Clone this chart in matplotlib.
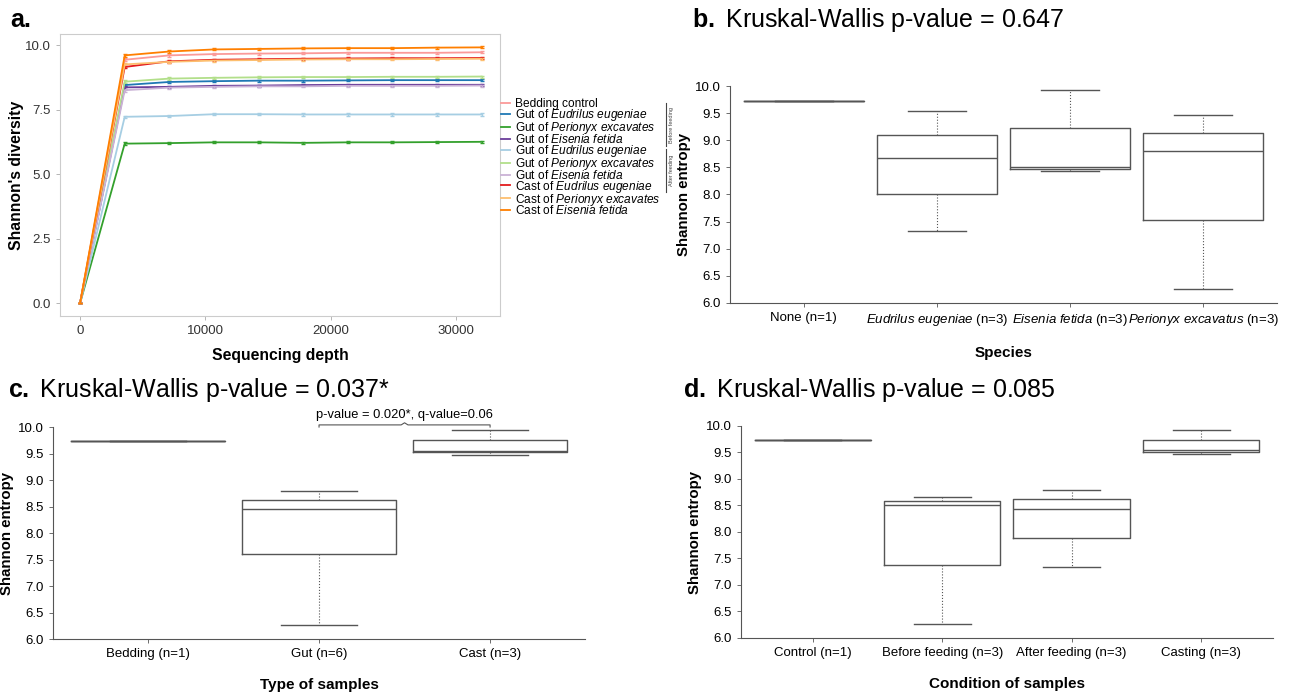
import matplotlib
matplotlib.use("Agg")
import matplotlib.pyplot as plt
import numpy as np

plt.rcParams['font.family'] = ['Liberation Sans', 'DejaVu Sans']
plt.rcParams['mathtext.fontset'] = 'custom'
plt.rcParams['mathtext.rm'] = 'Liberation Sans'
plt.rcParams['mathtext.it'] = 'Liberation Sans:italic'
plt.rcParams['mathtext.bf'] = 'Liberation Sans:bold'

# ---- panel a: rarefaction curves ----
depth = [0, 3560, 7120, 10680, 14240, 17800, 21360, 24920, 28480, 32040]
series_labels = [
    "Bedding control",
    r"Gut of $\it{Eudrilus\ eugeniae}$",
    r"Gut of $\it{Perionyx\ excavates}$",
    r"Gut of $\it{Eisenia\ fetida}$",
    r"Gut of $\it{Eudrilus\ eugeniae}$",
    r"Gut of $\it{Perionyx\ excavates}$",
    r"Gut of $\it{Eisenia\ fetida}$",
    r"Cast of $\it{Eudrilus\ eugeniae}$",
    r"Cast of $\it{Perionyx\ excavates}$",
    r"Cast of $\it{Eisenia\ fetida}$",
]
series_colors = ["#fb9a99", "#1f78b4", "#33a02c", "#6a3d9a", "#a6cee3",
                 "#b2df8a", "#cab2d6", "#e31a1c", "#fdbf6f", "#ff7f00"]
bedding = [0, 9.43, 9.60, 9.65, 9.67, 9.68, 9.70, 9.70, 9.70, 9.72]
gut_eud_before = [0, 8.45, 8.57, 8.60, 8.62, 8.62, 8.63, 8.64, 8.64, 8.64]
gut_per_before = [0, 6.18, 6.20, 6.23, 6.23, 6.21, 6.23, 6.23, 6.24, 6.25]
gut_eis_before = [0, 8.36, 8.38, 8.42, 8.43, 8.45, 8.46, 8.46, 8.46, 8.46]
gut_eud_after = [0, 7.22, 7.25, 7.32, 7.32, 7.31, 7.31, 7.31, 7.31, 7.31]
gut_per_after = [0, 8.58, 8.70, 8.73, 8.75, 8.76, 8.76, 8.77, 8.77, 8.78]
gut_eis_after = [0, 8.25, 8.35, 8.38, 8.40, 8.40, 8.42, 8.42, 8.42, 8.43]
cast_eud = [0, 9.15, 9.37, 9.43, 9.45, 9.47, 9.48, 9.49, 9.49, 9.50]
cast_per = [0, 9.25, 9.35, 9.40, 9.42, 9.44, 9.45, 9.45, 9.46, 9.47]
cast_eis = [0, 9.60, 9.75, 9.83, 9.85, 9.87, 9.88, 9.88, 9.90, 9.91]
all_series = [bedding, gut_eud_before, gut_per_before, gut_eis_before,
              gut_eud_after, gut_per_after, gut_eis_after,
              cast_eud, cast_per, cast_eis]
err = [0, 0.05, 0.05, 0.04, 0.04, 0.04, 0.04, 0.04, 0.04, 0.04]

# ---- panels b, c, d: box stats (whislo, q1, med, q3, whishi) ----
b_cats = ["None (n=1)", r"$\it{Eudrilus\ eugeniae}$ (n=3)",
          r"$\it{Eisenia\ fetida}$ (n=3)", r"$\it{Perionyx\ excavatus}$ (n=3)"]
b_stats = [[9.73, 9.73, 9.73, 9.73, 9.73],
           [7.33, 8.00, 8.67, 9.10, 9.54],
           [8.43, 8.47, 8.50, 9.22, 9.93],
           [6.26, 7.53, 8.80, 9.13, 9.47]]
c_cats = ["Bedding (n=1)", "Gut (n=6)", "Cast (n=3)"]
c_stats = [[9.73, 9.73, 9.73, 9.73, 9.73],
           [6.26, 7.60, 8.45, 8.62, 8.79],
           [9.48, 9.52, 9.55, 9.75, 9.94]]
d_cats = ["Control (n=1)", "Before feeding (n=3)", "After feeding (n=3)", "Casting (n=3)"]
d_stats = [[9.73, 9.73, 9.73, 9.73, 9.73],
           [6.26, 7.38, 8.50, 8.59, 8.66],
           [7.33, 7.88, 8.44, 8.62, 8.80],
           [9.47, 9.50, 9.54, 9.73, 9.93]]

fig = plt.figure(figsize=(12.94, 6.93), dpi=100)

# panel a
ax = fig.add_axes([0.0464, 0.544, 0.340, 0.407])
for vals, col, lab in zip(all_series, series_colors, series_labels):
    ax.errorbar(depth, vals, yerr=err, color=col, lw=1.3, capsize=1.5,
                elinewidth=1, label=lab)
ax.set_xlim(-1600, 33500)
ax.set_ylim(-0.5, 10.43)
ax.set_xticks([0, 10000, 20000, 30000])
ax.set_yticks([0, 2.5, 5.0, 7.5, 10.0])
ax.set_yticklabels(["0.0", "2.5", "5.0", "7.5", "10.0"])
for s in ax.spines.values():
    s.set_color("#cccccc")
ax.tick_params(labelcolor="#333333", labelsize=9.5, length=3, width=0.6,
               color="#aaaaaa")
ax.set_xlabel("Sequencing depth", fontsize=11.3, fontweight='bold', labelpad=8)
ax.set_ylabel("Shannon's diversity", fontsize=11.3, fontweight='bold', labelpad=1)
handles, labels = ax.get_legend_handles_labels()
handles = [h[0] for h in handles]
ax.legend(handles, labels, loc='upper left', bbox_to_anchor=(0.387, 0.858),
          bbox_transform=fig.transFigure, frameon=False, fontsize=8.6,
          handlelength=0.8, handletextpad=0.4, labelspacing=-0.26,
          borderpad=0, borderaxespad=0)
fig.add_artist(plt.Line2D([666 / 1294, 666 / 1294], [1 - 103 / 693, 1 - 146 / 693],
                          color="#444444", lw=0.8))
fig.add_artist(plt.Line2D([666 / 1294, 666 / 1294], [1 - 149 / 693, 1 - 192 / 693],
                          color="#444444", lw=0.8))
fig.text(672 / 1294, 1 - 125 / 693, "Before feeding", rotation=90, fontsize=4,
         ha='center', va='center', color="#444444")
fig.text(672 / 1294, 1 - 170 / 693, "After feeding", rotation=90, fontsize=4,
         ha='center', va='center', color="#444444")
fig.text(10 / 1294, 1 - 20 / 693, "a.", fontsize=18, fontweight='bold', va='center')


def box_panel(rect, cats, stats, xlabel, letter, title, title_xy):
    bx = fig.add_axes(rect)
    bxp_stats = []
    for cat, st in zip(cats, stats):
        bxp_stats.append(dict(label=cat, whislo=st[0], q1=st[1], med=st[2],
                              q3=st[3], whishi=st[4], fliers=[]))
    bx.bxp(bxp_stats, positions=range(1, len(cats) + 1), widths=0.9,
           showfliers=False,
           boxprops=dict(color="#555555", lw=1),
           medianprops=dict(color="#555555", lw=1),
           whiskerprops=dict(color="#555555", lw=0.8, ls=':'),
           capprops=dict(color="#555555", lw=1), capwidths=0.44)
    bx.set_xlim(0.445, len(cats) + 0.555)
    bx.set_ylim(6.0, 10.0)
    bx.set_yticks(np.arange(6.0, 10.01, 0.5))
    bx.set_yticklabels(["%.1f" % v for v in np.arange(6.0, 10.01, 0.5)])
    bx.set_xticks(range(1, len(cats) + 1))
    bx.set_xticklabels(cats)
    bx.spines['top'].set_visible(False)
    bx.spines['right'].set_visible(False)
    bx.spines['left'].set_color("#555555")
    bx.spines['bottom'].set_color("#555555")
    bx.tick_params(labelsize=9.5, length=3, width=0.6, color="#555555")
    bx.set_ylabel("Shannon entropy", fontsize=10.8, fontweight='bold', labelpad=3)
    bx.set_xlabel(xlabel, fontsize=11, fontweight='bold', labelpad=13)
    fig.text(title_xy[0] / 1294, 1 - title_xy[1] / 693,
             r"$\bf{" + letter + r".}$ " + title, fontsize=18, va='center')
    return bx


box_panel([0.5641, 0.5628, 0.4227, 0.3131], b_cats, b_stats, "Species",
          "b", "Kruskal-Wallis p-value = 0.647", (692, 20))
cx = box_panel([0.041, 0.0779, 0.4111, 0.3059], c_cats, c_stats, "Type of samples",
               "c", "Kruskal-Wallis p-value = 0.037*", (8, 390))
box_panel([0.5726, 0.0794, 0.4111, 0.3059], d_cats, d_stats, "Condition of samples",
          "d", "Kruskal-Wallis p-value = 0.085", (683, 390))

# significance bracket in panel c
cx.plot([2, 2, 2.48, 2.5, 2.52, 3, 3], [10.0, 10.04, 10.04, 10.08, 10.04, 10.04, 10.0],
        color="#555555", lw=0.8, clip_on=False)
cx.text(2.5, 10.12, "p-value = 0.020*, q-value=0.06", ha='center', va='bottom',
        fontsize=9.3)

fig.savefig("out.png", dpi=100)
